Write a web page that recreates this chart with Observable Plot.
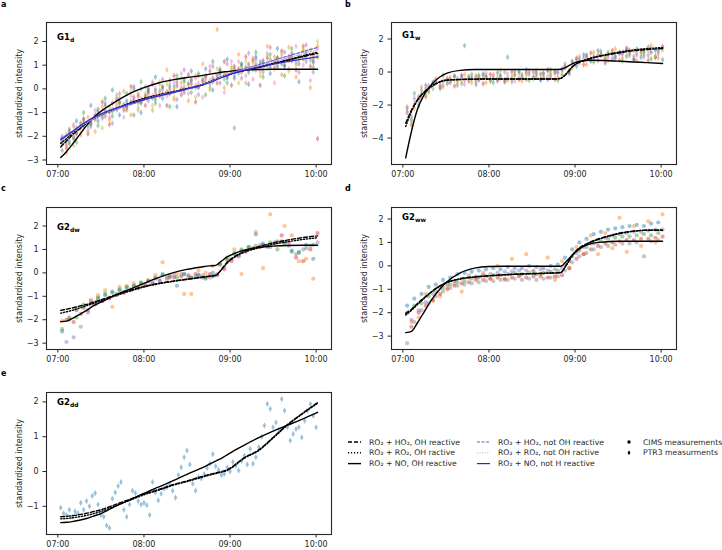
<!DOCTYPE html>
<html>
<head>
<meta charset="utf-8">
<script src="https://cdn.jsdelivr.net/npm/d3@7"></script>
<script src="https://cdn.jsdelivr.net/npm/@observablehq/plot@0.6"></script>
<style>
  body { margin: 0; background: #fff; font-family: "DejaVu Sans", sans-serif; }
  #fig { position: relative; width: 722px; height: 550px; }
  .panel { position: absolute; }
  .letter { position: absolute; font: bold 8px "DejaVu Sans"; color: #000; }
  .ttl { position: absolute; font: bold 8.5px "DejaVu Sans"; line-height: 9px; color: #000; white-space: nowrap; }
  .ttl sub { font-size: 6px; vertical-align: -2px; }
</style>
</head>
<body>
<div id="fig">
  <div class="panel" id="pa" style="left:0px;top:0px"></div>
  <div class="panel" id="pb" style="left:345px;top:0px"></div>
  <div class="panel" id="pc" style="left:0px;top:185px"></div>
  <div class="panel" id="pd" style="left:345px;top:185px"></div>
  <div class="panel" id="pe" style="left:0px;top:370px"></div>

  <div class="letter" style="left:1px;top:0px">a</div>
  <div class="letter" style="left:345px;top:0px">b</div>
  <div class="letter" style="left:1px;top:184px">c</div>
  <div class="letter" style="left:345px;top:184px">d</div>
  <div class="letter" style="left:1px;top:369px">e</div>

  <div class="ttl" style="left:57px;top:33px">G1<sub>d</sub></div>
  <div class="ttl" style="left:402px;top:31px">G1<sub>w</sub></div>
  <div class="ttl" style="left:57px;top:223px">G2<sub>dw</sub></div>
  <div class="ttl" style="left:402px;top:213px">G2<sub>ww</sub></div>
  <div class="ttl" style="left:57px;top:398px">G2<sub>dd</sub></div>
</div>
<script>
// time in minutes after 07:00
const tS  = [3,8,13,18,23,28,33,38,43,48,53,58,63,68,73,78,83,88,93,98,103,108,113,118,123,128,133,138,143,148,153,158,163,168,173,178];
const tS2 = [6,11,16,21,26,31,36,41,46,51,56,61,66,71,76,81,86,91,96,101,106,111,116,121,126,131,136,141,146,151,156,161,166,171,176,181];
const tE  = [2,4,6,8,10,12,14,16,18,20,22,24,26,28,30,32,34,36,38,40,42,44,46,48,50,52,54,56,58,60,
             62,64,66,68,70,72,74,76,78,80,82,84,86,88,90,92,94,96,98,100,102,104,106,108,110,112,114,116,118,120,
             122,124,126,128,130,132,134,136,138,140,142,144,146,148,150,152,154,156,158,160,162,164,166,168,170,172,174,176,178,180];
const tModel = [2,6,10,15,20,25,30,40,50,60,70,80,90,100,106,110,114,118,122,126,130,140,150,160,170,181];
const timeTicks = [0, 60, 120, 180];

const tab10 = ["#1f77b4","#ff7f0e","#2ca02c","#d62728","#9467bd","#8c564b","#e377c2","#7f7f7f","#bcbd22","#17becf"];

// panel a, G1d, PTR3
const a1 = [-2.1,-2.3,-1.35,-1.6,-0.7,-1.35,-0.7,-0.05,-1.1,-0.5,0.0,-1.0,-0.1,0.5,-0.4,0.35,-0.75,0.4,0.75,0.05,0.85,-0.05,0.65,1.25,0.45,1.05,0.2,1.35,1.1,0.65,1.7,0.95,1.5,0.3,1.45,1.2];
const a2 = [-2.7,-1.5,-1.95,-1.2,-1.8,-0.75,-1.3,-0.65,-0.1,-1.1,-0.2,-0.3,-0.9,0.2,0.8,-0.45,0.25,-0.5,0.55,1.05,0.05,2.5,0.05,0.85,1.45,0.25,1.3,0.75,1.8,1.35,0.6,1.75,0.5,1.6,0.05,1.8];
const a3 = [-2.2,-1.8,-2.25,-1.0,-1.4,-1.55,-0.4,-1.15,-0.6,-0.2,-1.1,0.3,0.0,-0.6,0.1,-0.75,0.55,0.3,-0.15,0.65,-0.25,1.15,0.75,0.25,-1.65,0.95,0.7,1.55,0.5,1.45,1.3,0.55,1.7,1.3,1.55,0.9];
const a4 = [-2.5,-2.1,-1.45,-1.9,-1.1,-0.55,-1.5,-0.45,-0.9,0.1,-0.3,-0.7,0.2,-0.3,-0.7,0.55,-0.25,0.6,-0.55,0.35,0.75,0.25,1.15,0.15,0.85,1.35,1.2,0.15,1.3,0.85,1.6,1.35,0.8,1.8,0.95,-2.1];
const a5 = [-2.0,-1.9,-1.85,-1.3,-1.6,-1.05,-0.6,-1.45,-0.2,-0.8,0.1,0.0,-0.5,-0.1,0.4,0.15,-0.45,0.8,0.25,-0.25,0.55,0.95,0.25,1.05,0.55,0.45,1.5,1.25,0.7,1.75,1.0,1.55,1.3,0.7,1.85,0.7];
const a6 = [-2.4,-1.6,-1.55,-1.7,-0.9,-1.25,-1.2,-0.35,-1.2,-0.3,-0.9,0.1,0.3,-0.7,-0.3,0.25,0.65,-0.2,0.45,-0.35,0.95,0.55,-0.15,1.15,1.15,0.55,0.4,1.15,1.5,0.25,1.4,0.85,1.8,1.0,0.35,1.7];
const a7 = [-2.3,-2.2,-1.65,-1.4,-1.5,-0.85,-0.9,-0.95,-0.4,-0.9,-0.5,-0.6,0.0,0.0,-0.2,0.05,0.15,0.0,0.35,0.55,0.25,0.45,0.85,0.45,0.85,1.05,0.8,1.05,0.9,1.25,0.9,1.25,1.2,1.4,1.15,1.4];
const a8 = [-1.9,-2.4,-1.45,-1.8,-1.2,-1.65,-0.8,-0.25,-0.8,-0.1,-0.8,-0.2,-0.7,0.3,0.2,-0.35,0.45,0.2,-0.35,0.45,-0.05,0.85,0.65,0.95,0.25,1.15,1.1,0.55,1.4,0.95,1.5,0.75,1.0,1.7,1.65,2.0];
const a9 = [-2.6,-1.7,-1.9,-1.25,-1.45,-0.95,-1.15,-0.6,-0.55,-0.75,-0.35,-0.55,-0.15,-0.45,0.05,-0.2,0.3,-0.15,0.4,0.1,0.5,0.3,0.75,0.5,0.95,0.7,1.05,0.8,1.2,0.9,1.3,1.0,1.35,1.05,1.4,1.1];
const a10 = [-2.2,-2.05,-1.6,-1.55,-1.25,-1.2,-0.95,-0.9,-0.65,-0.55,-0.6,-0.3,-0.4,-0.05,-0.15,0.1,-0.05,0.25,0.05,0.35,0.2,0.6,0.4,0.7,0.65,0.9,0.8,1.1,0.95,1.15,1.05,1.25,1.1,1.3,1.2,1.35];
const a11 = [-2.35,-2.0,-1.7,-1.45,-1.3,-1.1,-1.0,-0.8,-0.7,-0.55,-0.5,-0.35,-0.3,-0.15,-0.1,0.0,0.05,0.15,0.15,0.3,0.35,0.5,0.55,0.7,0.75,0.9,0.9,1.0,1.05,1.1,1.1,1.2,1.25,1.25,1.3,1.35];
const a12 = [-2.25,-1.95,-1.8,-1.5,-1.35,-1.15,-0.95,-0.85,-0.75,-0.6,-0.45,-0.4,-0.25,-0.2,-0.05,-0.05,0.1,0.1,0.2,0.25,0.4,0.45,0.6,0.65,0.8,0.85,0.95,0.95,1.0,1.05,1.15,1.15,1.2,1.2,1.3,1.3];

// panel b, G1w, PTR3
const b1 = [-2.1,-2.2,-0.9,-1.1,-0.4,-0.9,-0.35,-0.6,-0.15,-0.65,-0.3,-0.65,-0.15,0.1,-0.5,-0.15,-0.55,0.0,0.1,-0.35,-0.05,-0.3,0.5,0.25,0.95,0.45,1.2,1.05,0.7,1.4,0.85,1.35,0.7,1.3,1.6,0.85];
const b2 = [-3.2,-1.5,-1.5,-0.7,-0.9,-0.4,-0.85,-0.2,-0.55,-0.25,-0.7,-0.15,-0.45,-0.6,0.0,-0.45,-0.05,-0.3,-0.4,0.15,-0.45,0.1,0.0,0.85,0.45,1.15,0.7,0.55,1.3,0.7,1.45,0.75,1.3,0.7,0.9,1.55];
const b3 = [-2.4,-1.3,-1.3,-1.2,-0.6,-0.2,-0.45,-0.8,1.6,-0.15,-0.2,-0.25,-0.65,-0.2,0.9,0.05,-0.15,-0.5,-0.1,-0.05,0.15,-0.5,0.3,0.65,0.65,1.05,0.6,1.25,1.2,0.9,0.65,1.15,1.4,1.2,0.8,1.35];
const b4 = [-2.9,-2.0,-0.8,-0.6,-1.0,-0.7,-0.25,-0.3,-0.35,-0.75,-0.1,-0.55,-0.05,-0.5,-0.4,0.05,0.15,0.0,-0.5,-0.45,0.05,0.2,-0.1,0.35,1.05,0.65,1.3,0.75,0.8,1.2,1.35,0.75,0.9,1.5,1.3,0.75];
const b5 = [-2.5,-1.9,-1.6,-0.8,-0.5,-0.8,-0.65,-0.4,-0.75,-0.35,-0.5,-0.05,-0.25,-0.4,-0.1,-0.55,-0.35,0.1,0.0,-0.25,-0.35,0.0,0.4,0.45,0.55,0.95,0.8,1.15,0.9,0.8,1.15,1.25,1.0,0.9,1.2,1.25];
const b6 = [-2.7,-1.7,-1.0,-1.0,-0.8,-0.5,-0.25,-0.7,-0.25,-0.55,-0.2,-0.45,-0.55,0.0,-0.6,-0.05,-0.45,-0.4,-0.1,0.05,-0.05,-0.2,0.1,0.75,0.85,0.75,1.0,0.85,1.1,1.1,0.95,0.95,1.2,1.0,0.9,1.45];
const b7 = [-2.2,-1.6,-1.1,-0.95,-0.65,-0.55,-0.6,-0.45,-0.5,-0.4,-0.45,-0.3,-0.4,-0.25,-0.35,-0.2,-0.3,-0.15,-0.25,-0.1,-0.2,-0.05,0.25,0.6,0.8,0.9,0.95,1.0,1.05,0.95,1.1,1.0,1.15,1.05,1.2,1.1];
const b8 = [-3.0,-2.1,-1.4,-0.75,-0.85,-0.65,-0.5,-0.55,-0.4,-0.5,-0.35,-0.4,-0.3,-0.45,-0.25,-0.35,-0.2,-0.3,-0.15,-0.25,-0.1,-0.15,0.1,0.5,0.7,0.8,1.05,0.9,1.15,1.2,1.0,1.3,1.05,1.25,1.0,1.3];

// panel c, G2dw, CIMS
const c1 = [-2.5,-1.9,-1.6,-1.5,-1.2,-1.1,-0.95,-0.8,-0.75,-0.6,-0.55,-0.45,-0.35,-0.25,-0.05,-0.2,-0.55,-0.05,-0.2,-0.1,-0.2,0.0,0.35,0.55,0.8,0.95,1.1,1.65,1.25,1.1,1.35,1.3,0.95,0.9,1.2,0.6];
const c2 = [-2.05,-1.95,-1.55,-1.45,-1.15,-0.95,-0.75,-1.45,-0.6,-0.55,-0.45,-0.5,-0.3,-0.1,0.45,-0.1,-0.05,-0.9,-0.9,0.1,0.0,0.3,0.35,0.55,1.0,-0.05,1.0,1.75,0.2,2.5,1.3,2.0,1.6,0.5,0.6,-0.25];
const c3 = [-2.4,-2.0,-1.9,-1.35,-1.3,-1.05,-0.9,-0.85,-0.7,-0.65,-0.55,-0.4,-0.35,-0.2,-0.1,-0.15,-0.2,-0.05,-0.2,-0.1,-0.25,-0.15,0.4,0.65,0.85,1.0,1.1,1.15,1.2,1.3,1.0,1.25,0.9,0.85,1.05,1.2];
const c4 = [-2.0,-2.1,-1.75,-1.6,-1.35,-1.2,-1.05,-0.95,-0.85,-0.75,-0.65,-0.55,-0.45,-0.35,-0.25,-0.2,-0.15,-0.15,-0.05,-0.2,-0.05,-0.1,0.15,0.5,0.7,0.9,1.05,1.1,1.15,1.25,1.6,1.3,0.65,0.5,1.0,1.7];
const c5 = [-2.95,-2.75,-2.3,-1.7,-1.25,-1.2,-1.1,-0.9,-0.8,-0.7,-0.65,-0.5,-0.4,-0.3,-0.15,-0.1,-0.05,-0.1,-0.15,-0.1,-0.2,-0.05,0.25,0.6,0.75,0.95,1.05,1.2,1.1,1.3,1.35,1.15,0.8,1.0,1.15,1.3];

// panel d, G2ww, CIMS
const d1 = [-1.7,-1.4,-1.2,-0.9,-0.8,-0.6,-0.5,-0.35,-0.3,-0.25,-0.2,-0.15,-0.1,-0.15,-0.05,-0.1,-0.1,0.0,-0.05,-0.1,0.0,0.05,0.35,0.7,1.0,1.15,1.35,1.45,1.55,1.6,1.65,1.7,1.75,1.7,1.8,1.85];
const d2 = [-2.4,-2.2,-1.2,-1.5,-1.3,-0.9,-0.75,-1.1,-0.4,-0.5,-0.3,-0.55,0.0,-0.6,0.3,-0.4,0.5,-0.2,-0.35,0.35,-0.6,0.2,-0.1,0.8,0.5,1.3,0.5,1.4,0.75,2.05,0.6,1.7,0.85,1.9,1.0,2.2];
const d3v = [-2.0,-1.7,-1.6,-1.3,-1.1,-0.95,-0.8,-0.7,-0.65,-0.55,-0.5,-0.45,-0.4,-0.4,-0.35,-0.3,-0.35,-0.3,-0.35,-0.3,-0.25,-0.2,0.05,0.4,0.65,0.8,0.95,1.05,1.15,1.2,1.25,1.25,1.3,1.35,1.3,1.4];
const d4 = [-2.6,-2.0,-1.7,-1.45,-1.2,-1.0,-0.85,-0.75,-0.7,-0.6,-0.6,-0.55,-0.5,-0.55,-0.5,-0.45,-0.5,-0.45,-0.45,-0.5,-0.45,-0.4,-0.1,0.3,0.5,0.7,0.85,0.95,1.0,1.05,1.1,1.1,1.15,1.15,1.2,1.25];
const d5 = [-2.3,-1.9,-1.55,-1.2,-0.95,-0.8,-0.65,-0.55,-0.5,-0.45,-0.4,-0.35,-0.3,-0.25,-0.25,-0.2,-0.2,-0.25,-0.15,-0.2,-0.15,-0.1,0.2,0.55,0.8,0.95,1.1,1.2,1.3,1.35,1.4,1.45,1.45,1.5,1.55,1.55];
const d6 = [-3.3,-2.4,-1.9,-1.6,-1.3,-1.1,-0.95,-0.85,-0.8,-0.75,-0.7,-0.65,-0.65,-0.6,-0.6,-0.55,-0.6,-0.55,-0.6,-0.55,-0.5,-0.45,-0.2,0.15,0.4,0.55,0.7,0.8,0.85,0.9,0.95,0.95,1.0,0.4,1.05,1.1];

// panel e, G2dd, PTR3
const e1 = [-1.04,-1.2,-1.25,-1.1,-1.3,-1.15,-1.2,-0.9,-1.1,-0.85,-1.0,-0.7,-0.62,-0.95,-1.25,-1.3,-1.55,-1.62,-0.78,-0.6,
            -0.42,-0.3,-1.1,-1.3,-0.95,-0.55,-0.62,-0.85,-0.95,-0.9,-0.97,-1.25,-0.3,-0.6,-0.83,-0.64,-0.5,-0.45,-0.35,-0.55,
            -0.75,-0.1,0.12,0.41,0.6,0.2,-0.35,-0.55,-0.16,-0.2,-0.07,0.1,0.22,0.5,0.15,0.05,-0.1,-0.07,0.12,0.0,
            0.27,0.17,0.03,0.3,0.45,0.2,0.65,0.22,0.41,0.7,1.0,1.32,1.94,1.8,1.27,1.41,1.2,2.08,1.75,1.27,
            0.89,1.08,1.22,1.27,0.98,1.46,1.75,1.94,1.6,1.27];

// model curves: HO2 = RO2 + HO2, RO2 = RO2 + RO2, NO = RO2 + NO; "n" = not OH reactive
const aHO2 = [-2.45,-2.2,-1.95,-1.7,-1.45,-1.25,-1.1,-0.85,-0.62,-0.42,-0.28,-0.15,0.0,0.15,0.3,0.4,0.5,0.58,0.66,0.72,0.78,0.9,1.05,1.2,1.35,1.5];
const aRO2 = [-2.3,-2.1,-1.88,-1.65,-1.42,-1.25,-1.1,-0.85,-0.6,-0.4,-0.25,-0.12,0.02,0.17,0.3,0.4,0.5,0.58,0.66,0.72,0.78,0.92,1.08,1.22,1.38,1.55];
const aNO  = [-2.9,-2.65,-2.35,-1.95,-1.55,-1.2,-0.95,-0.55,-0.2,0.05,0.25,0.38,0.48,0.56,0.62,0.66,0.7,0.73,0.76,0.78,0.8,0.82,0.83,0.83,0.83,0.83];
const aHO2n = [-2.1,-1.95,-1.8,-1.6,-1.42,-1.27,-1.12,-0.88,-0.68,-0.48,-0.32,-0.18,-0.02,0.15,0.3,0.4,0.5,0.6,0.7,0.78,0.85,1.02,1.2,1.38,1.56,1.75];
const aRO2n = [-2.2,-2.02,-1.85,-1.63,-1.43,-1.26,-1.1,-0.86,-0.64,-0.44,-0.28,-0.14,0.0,0.16,0.3,0.4,0.5,0.59,0.68,0.75,0.82,0.97,1.13,1.3,1.47,1.65];
const aNOn  = [-2.15,-1.98,-1.8,-1.58,-1.38,-1.2,-1.05,-0.82,-0.62,-0.45,-0.3,-0.15,0.0,0.15,0.27,0.37,0.47,0.56,0.65,0.72,0.78,0.92,1.05,1.15,1.25,1.35];
const bHO2 = [-3.1,-2.3,-1.7,-1.2,-0.85,-0.62,-0.5,-0.45,-0.43,-0.42,-0.42,-0.42,-0.42,-0.42,-0.42,-0.38,-0.1,0.3,0.55,0.68,0.8,1.0,1.15,1.28,1.36,1.42];
const bRO2 = [-3.3,-2.4,-1.75,-1.22,-0.88,-0.64,-0.5,-0.45,-0.43,-0.42,-0.42,-0.42,-0.42,-0.42,-0.42,-0.38,-0.1,0.3,0.56,0.7,0.82,1.03,1.2,1.33,1.42,1.48];
const bNO  = [-5.2,-3.6,-2.3,-1.35,-0.75,-0.35,-0.1,0.1,0.15,0.15,0.15,0.15,0.15,0.15,0.15,0.17,0.3,0.5,0.62,0.68,0.71,0.7,0.66,0.61,0.57,0.52];
const cHO2 = [-1.6,-1.55,-1.5,-1.42,-1.35,-1.25,-1.15,-0.95,-0.75,-0.58,-0.45,-0.35,-0.27,-0.18,-0.13,-0.1,0.15,0.45,0.65,0.8,0.92,1.12,1.28,1.4,1.5,1.58];
const cRO2 = [-1.72,-1.66,-1.6,-1.5,-1.4,-1.3,-1.2,-0.98,-0.78,-0.6,-0.47,-0.37,-0.28,-0.2,-0.15,-0.12,0.13,0.42,0.62,0.77,0.88,1.07,1.22,1.33,1.42,1.5];
const cNO  = [-2.08,-2.06,-1.95,-1.78,-1.6,-1.4,-1.25,-0.95,-0.7,-0.45,-0.2,0.0,0.15,0.25,0.3,0.32,0.5,0.68,0.8,0.9,0.97,1.08,1.14,1.17,1.18,1.18];
const dHO2 = [-2.03,-1.85,-1.62,-1.35,-1.1,-0.88,-0.72,-0.55,-0.47,-0.42,-0.38,-0.35,-0.33,-0.31,-0.3,-0.28,0.05,0.45,0.72,0.88,1.0,1.22,1.38,1.48,1.52,1.52];
const dRO2 = [-2.1,-1.9,-1.66,-1.38,-1.12,-0.9,-0.74,-0.56,-0.48,-0.43,-0.39,-0.36,-0.34,-0.32,-0.31,-0.29,0.03,0.42,0.7,0.86,0.98,1.2,1.36,1.47,1.52,1.53];
const dNO  = [-2.85,-2.8,-2.45,-1.95,-1.45,-1.05,-0.72,-0.3,-0.1,-0.03,-0.02,-0.02,-0.02,-0.02,-0.02,-0.02,0.2,0.45,0.67,0.83,0.93,1.02,1.05,1.05,1.05,1.05];
const eHO2 = [-1.3,-1.29,-1.27,-1.24,-1.2,-1.15,-1.1,-0.95,-0.8,-0.65,-0.52,-0.38,-0.27,-0.15,-0.08,-0.04,0.0,0.05,0.15,0.28,0.4,0.62,0.98,1.35,1.66,1.98];
const eRO2 = [-1.36,-1.35,-1.33,-1.3,-1.26,-1.21,-1.15,-0.99,-0.83,-0.67,-0.54,-0.4,-0.29,-0.17,-0.1,-0.06,-0.02,0.03,0.13,0.26,0.38,0.6,0.96,1.33,1.64,1.96];
const eNO  = [-1.47,-1.46,-1.44,-1.4,-1.35,-1.28,-1.21,-1.0,-0.82,-0.63,-0.45,-0.27,-0.08,0.1,0.22,0.3,0.38,0.48,0.58,0.67,0.76,0.97,1.16,1.33,1.5,1.7];

const styleHO2  = {stroke: "#000", strokeDasharray: "4,2"};
const styleRO2  = {stroke: "#000", strokeDasharray: "1.2,1.8"};
const styleNO   = {stroke: "#000"};
const styleHO2n = {stroke: "#6a5acd", strokeDasharray: "3,1.5", strokeWidth: 1.1};
const styleRO2n = {stroke: "#b8a8e8", strokeDasharray: "1,1.5", strokeWidth: 1.1};
const styleNOn  = {stroke: "#2a2ad0", strokeWidth: 1.2};

const fmtTime = m => String(7 + m / 60).padStart(2, "0") + ":00";

function pts(series, times) {
  return series.flatMap((vals, k) => vals.map((v, i) => ({s: "s" + k, t: times[k][i], v})));
}
function curve(vals) {
  return vals.map((v, i) => ({t: tModel[i], v}));
}

function panel(id, o) {
  const names = o.series.map((_, k) => "s" + k);
  const chart = Plot.plot({
    width: 345,
    height: 185,
    marginLeft: 46,
    marginRight: 14,
    marginTop: 22,
    marginBottom: 21,
    style: {fontFamily: "DejaVu Sans", fontSize: "8px", color: "#262626", background: "none"},
    x: {domain: [-7.9, 190.7], ticks: timeTicks, tickFormat: fmtTime, tickSize: 3.5, tickPadding: 3, label: null},
    y: {domain: o.yDomain, ticks: o.yTicks, tickFormat: "d", tickSize: 3.5, tickPadding: 4.5,
        label: "standardized intensity", labelAnchor: "center", labelOffset: 30, labelArrow: "none"},
    color: {domain: names, range: o.colors},
    marks: [
      Plot.dot(pts(o.series, o.times), {x: "t", y: "v", fill: "s", symbol: o.symbol, r: o.r, fillOpacity: 0.45, stroke: "none"}),
      ...o.lines.map(([vals, st]) =>
        Plot.line(curve(vals), {x: "t", y: "v", curve: "monotone-x", strokeWidth: 1.4, ...st})),
      Plot.frame({stroke: "#262626", strokeWidth: 1.1})
    ]
  });
  document.getElementById(id).append(chart);
}

panel("pa", {
  series: [a1, a2, a3, a4, a5, a6, a7, a8, a9, a10, a11, a12],
  times: [tS, tS2, tS, tS2, tS, tS2, tS, tS2, tS, tS2, tS2, tS],
  colors: [tab10[0], tab10[1], tab10[2], tab10[3], tab10[4], tab10[6], tab10[7], tab10[8], tab10[5], tab10[9], tab10[1], tab10[6]],
  symbol: "diamond", r: 1.85,
  yDomain: [-3.19, 2.8], yTicks: [-3, -2, -1, 0, 1, 2],
  lines: [[aHO2, styleHO2], [aRO2, styleRO2], [aNO, styleNO], [aHO2n, styleHO2n], [aRO2n, styleRO2n], [aNOn, styleNOn]]
});

panel("pb", {
  series: [b1, b2, b3, b4, b5, b6, b7, b8],
  times: [tS, tS2, tS, tS2, tS, tS2, tS, tS2],
  colors: [tab10[1], tab10[3], tab10[2], tab10[0], tab10[6], tab10[7], tab10[4], tab10[8]],
  symbol: "diamond", r: 1.85,
  yDomain: [-5.6, 3.0], yTicks: [-4, -2, 0, 2],
  lines: [[bHO2, styleHO2], [bRO2, styleRO2], [bNO, styleNO]]
});

panel("pc", {
  series: [c1, c2, c3, c4, c5],
  times: [tS, tS, tS, tS2, tS2],
  colors: [tab10[0], tab10[1], tab10[2], tab10[3], tab10[4]],
  symbol: "circle", r: 2.1,
  yDomain: [-3.27, 2.79], yTicks: [-3, -2, -1, 0, 1, 2],
  lines: [[cHO2, styleHO2], [cRO2, styleRO2], [cNO, styleNO]]
});

panel("pd", {
  series: [d1, d2, d3v, d4, d5, d6],
  times: [tS, tS2, tS, tS2, tS2, tS],
  colors: [tab10[0], tab10[1], tab10[2], tab10[3], tab10[4], tab10[7]],
  symbol: "circle", r: 2.1,
  yDomain: [-3.57, 2.49], yTicks: [-3, -2, -1, 0, 1, 2],
  lines: [[dHO2, styleHO2], [dRO2, styleRO2], [dNO, styleNO]]
});

panel("pe", {
  series: [e1],
  times: [tE],
  colors: [tab10[0]],
  symbol: "diamond", r: 1.85,
  yDomain: [-1.81, 2.27], yTicks: [-1, 0, 1, 2],
  lines: [[eHO2, styleHO2], [eRO2, styleRO2], [eNO, styleNO]]
});

// legend
const legendLines = [
  {col: 0, row: 0, st: styleHO2, text: "RO₂ + HO₂, OH reactive"},
  {col: 0, row: 1, st: styleRO2, text: "RO₂ + RO₂, OH ractive"},
  {col: 0, row: 2, st: styleNO, text: "RO₂ + NO, OH reactive"},
  {col: 1, row: 0, st: styleHO2n, text: "RO₂ + HO₂, not OH reactive"},
  {col: 1, row: 1, st: styleRO2n, text: "RO₂ + RO₂, not OH ractive"},
  {col: 1, row: 2, st: styleNOn, text: "RO₂ + NO, not H reactive"}
];
const legendMarks = [
  {row: 0, symbol: d3.symbolCircle, size: 9, text: "CIMS measurements"},
  {row: 1, symbol: d3.symbolDiamond, size: 7, text: "PTR3 measurments"}
];
const lg = d3.select("#fig").append("svg")
  .attr("width", 382).attr("height", 42)
  .style("position", "absolute").style("left", "340px").style("top", "432px")
  .style("font-family", "DejaVu Sans").style("font-size", "7.7px");
const colX = [8, 137];
const rowY = [10, 20.8, 31.6];
for (const d of legendLines) {
  const x0 = colX[d.col];
  lg.append("line")
    .attr("x1", x0).attr("x2", x0 + 13).attr("y1", rowY[d.row]).attr("y2", rowY[d.row])
    .attr("stroke", d.st.stroke).attr("stroke-width", d.st.strokeWidth || 1.4)
    .attr("stroke-dasharray", d.st.strokeDasharray || null);
  lg.append("text").attr("x", x0 + 21).attr("y", rowY[d.row]).attr("dy", "0.35em")
    .attr("fill", "#262626").text(d.text);
}
for (const d of legendMarks) {
  lg.append("path").attr("d", d3.symbol(d.symbol, d.size)())
    .attr("transform", `translate(289,${rowY[d.row]})`).attr("fill", "#000");
  lg.append("text").attr("x", 303).attr("y", rowY[d.row]).attr("dy", "0.35em")
    .attr("fill", "#262626").text(d.text);
}
</script>
</body>
</html>
